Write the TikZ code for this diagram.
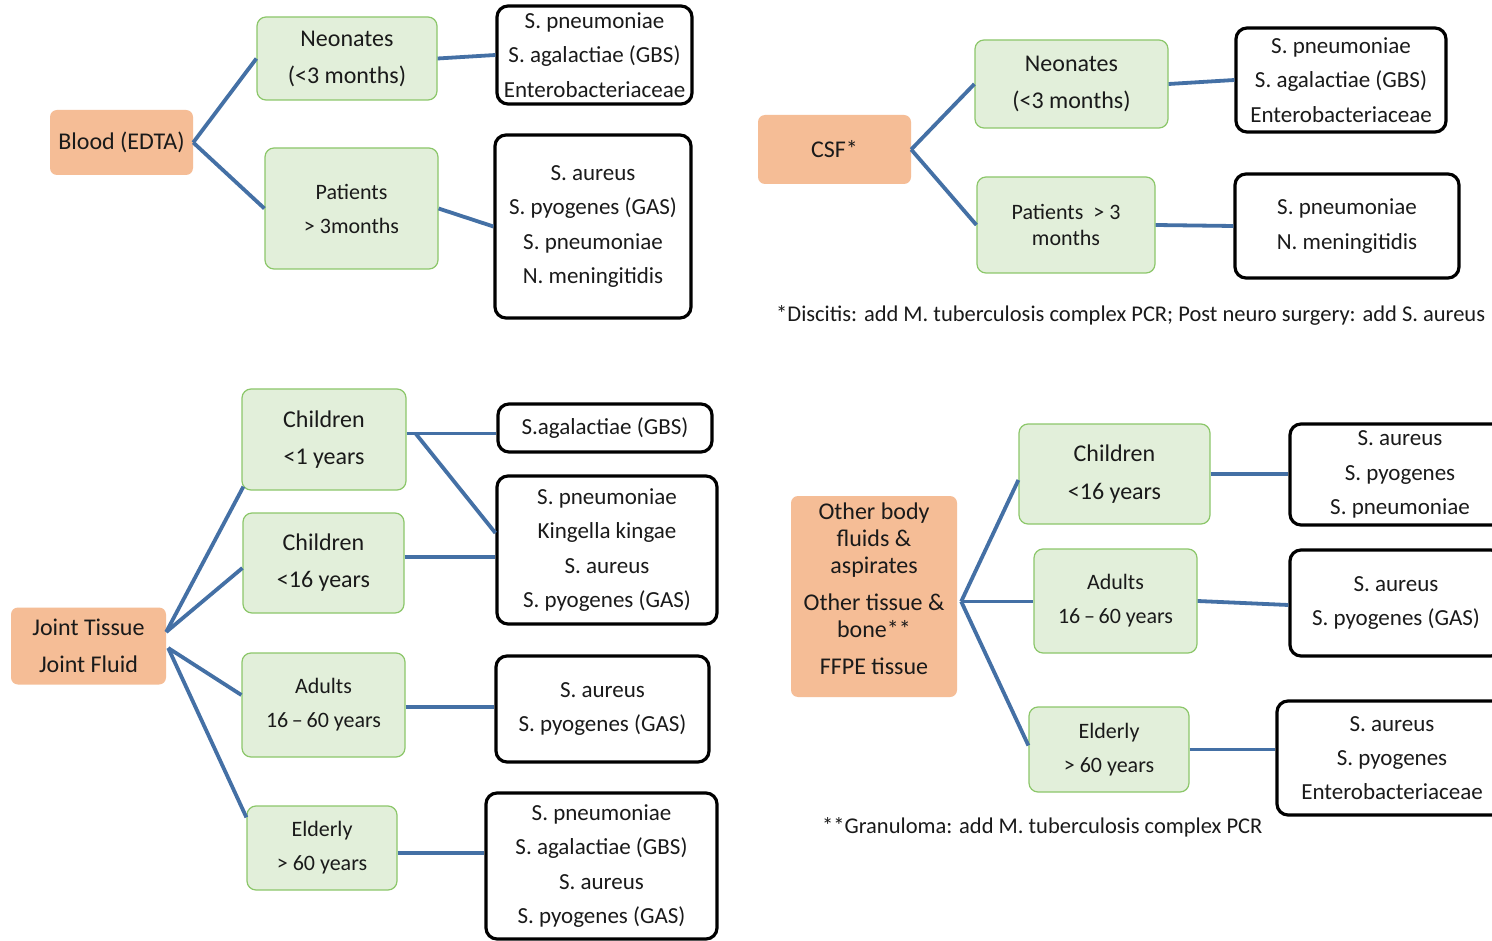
\documentclass[tikz,border=0pt]{standalone}
\usepackage{fontspec}
\setmainfont{Carlito}
\usetikzlibrary{calc}
\definecolor{srcfill}{HTML}{F5BD96}
\definecolor{catfill}{HTML}{E2EFDA}
\definecolor{catdraw}{HTML}{8CC76A}
\definecolor{linkblue}{HTML}{4470A5}
\definecolor{txt}{HTML}{1A1A1A}
\tikzset{
  src/.style={fill=srcfill, draw=none, rounded corners=7pt, inner sep=0pt, align=center, text=txt,
    font=\fontsize{24}{37}\selectfont},
  cat/.style={fill=catfill, draw=catdraw, line width=1.2pt, rounded corners=9pt, inner sep=0pt, align=center, text=txt,
    font=\fontsize{24}{37}\selectfont},
  org/.style={fill=white, draw=black, line width=3.2pt, rounded corners=11pt, inner sep=0pt, align=center, text=txt,
    font=\fontsize{23}{34.3}\selectfont},
  conn/.style={draw=linkblue, line width=3.8pt},
  foot/.style={inner sep=0pt, text=txt, font=\fontsize{22.5}{27}\selectfont},
}
\begin{document}
\begin{tikzpicture}[x=1pt, y=-1pt]
\useasboundingbox (0,0) rectangle (1492,941);
\clip (0,0) rectangle (1492,941);
\fill[white] (0,0) rectangle (1492,941);

% ---------- top left: Blood ----------
\node[src, minimum width=143pt, minimum height=65pt] (blood) at (121.5,142.5) {Blood (EDTA)};
\node[cat, minimum width=180pt, minimum height=83pt] (tlneo) at (347,58.5) {Neonates\\(<3 months)};
\node[cat, minimum width=173pt, minimum height=121pt, font=\fontsize{22}{34}\selectfont] (tlpat) at (351.5,208.5) {Patients\\> 3months};
\node[org, minimum width=195pt, minimum height=98pt] (tlb1) at (594.5,55) {S. pneumoniae\\S. agalactiae (GBS)\\Enterobacteriaceae};
\node[org, minimum width=196pt, minimum height=183pt] (tlb2) at (593,226.5) {S. aureus\\S. pyogenes (GAS)\\S. pneumoniae\\N. meningitidis};
\draw[conn] (blood.east) -- (tlneo.west);
\draw[conn] (blood.east) -- (tlpat.west);
\draw[conn] (tlneo.east) -- (tlb1.west);
\draw[conn] (tlpat.east) -- (tlb2.west);

% ---------- top right: CSF ----------
\node[src, minimum width=153pt, minimum height=69pt] (csf) at (834.5,149.5) {CSF*};
\node[cat, minimum width=193pt, minimum height=88pt] (trneo) at (1071.5,84) {Neonates\\(<3 months)};
\node[cat, minimum width=178pt, minimum height=96pt, font=\fontsize{22}{26}\selectfont] (trpat) at (1066,225) {Patients\ \ > 3\\months};
\node[org, minimum width=210pt, minimum height=104pt] (trb1) at (1341,80) {S. pneumoniae\\S. agalactiae (GBS)\\Enterobacteriaceae};
\node[org, minimum width=224pt, minimum height=104pt] (trb2) at (1347,226) {S. pneumoniae\\N. meningitidis};
\node[foot, anchor=west] (foot1) at (776,315) {*Discitis: add M. tuberculosis complex PCR; Post neuro surgery: add S. aureus};
\draw[conn] (csf.east) -- (trneo.west);
\draw[conn] (csf.east) -- (trpat.west);
\draw[conn] (trneo.east) -- (trb1.west);
\draw[conn] (trpat.east) -- (trb2.west);

% ---------- bottom left: Joint ----------
\node[src, minimum width=155pt, minimum height=77pt] (joint) at (88.5,646) {Joint Tissue\\Joint Fluid};
\node[cat, minimum width=164pt, minimum height=101pt] (blc1) at (324,439.5) {Children\\<1 years};
\node[cat, minimum width=161pt, minimum height=100pt] (blc16) at (323.5,563) {Children\\<16 years};
\node[cat, minimum width=163pt, minimum height=104pt, font=\fontsize{22}{34}\selectfont] (bladu) at (323.5,705) {Adults\\16\,--\,60 years};
\node[cat, minimum width=150pt, minimum height=84pt, font=\fontsize{22}{34}\selectfont] (bleld) at (322,848) {Elderly\\> 60 years};
\node[org, minimum width=214pt, minimum height=48pt] (blb1) at (605,428) {S.agalactiae (GBS)};
\node[org, minimum width=220pt, minimum height=148pt] (blb2) at (607,550) {S. pneumoniae\\Kingella kingae\\S. aureus\\S. pyogenes (GAS)};
\node[org, minimum width=213pt, minimum height=106pt] (blb3) at (602.5,709) {S. aureus\\S. pyogenes (GAS)};
\node[org, minimum width=231pt, minimum height=146pt] (blb4) at (601.5,866) {S. pneumoniae\\S. agalactiae (GBS)\\S. aureus\\S. pyogenes (GAS)};
\coordinate (jtop) at ([yshift=14pt]joint.east);
\coordinate (jbot) at ([yshift=-2pt,xshift=2pt]joint.east);
\draw[conn] (jtop) -- ([xshift=2pt,yshift=4pt]blc1.south west);
\draw[conn] (jtop) -- ([yshift=-5pt]blc16.west);
\draw[conn] (jbot) -- ([yshift=10pt]bladu.west);
\draw[conn] (jbot) -- ([yshift=-12pt]bleld.north west);
\coordinate (c1r) at ([yshift=6pt]blc1.east);
\draw[conn] (c1r) -- (c1r -| blb1.west);
\draw[conn] ([xshift=9pt]c1r) -- ([yshift=17pt]blb2.west);
\draw[conn] ([yshift=6pt]blc16.east) -- ([yshift=6pt]blc16.east -| blb2.west);
\draw[conn] ([yshift=-2pt]bladu.east) -- ([yshift=-2pt]bladu.east -| blb3.west);
\draw[conn] ([yshift=-5pt]bleld.east) -- ([yshift=-5pt]bleld.east -| blb4.west);

% ---------- bottom right: Other ----------
\node[src, minimum width=166pt, minimum height=201pt, font=\fontsize{24}{27}\selectfont, text depth=16pt] (other) at (874,596.5) {Other body\\fluids \&\\aspirates\\[10pt]Other tissue \&\\bone**\\[10pt]FFPE tissue};
\node[cat, minimum width=191pt, minimum height=100pt, font=\fontsize{24}{38}\selectfont] (brc) at (1114.5,474) {Children\\<16 years};
\node[cat, minimum width=163pt, minimum height=104pt, font=\fontsize{22}{34}\selectfont] (bradu) at (1115.5,601) {Adults\\16\,--\,60 years};
\node[cat, minimum width=160pt, minimum height=85pt, font=\fontsize{22}{34}\selectfont] (breld) at (1109,749.5) {Elderly\\> 60 years};
\node[org, minimum width=220pt, minimum height=101pt] (brb1) at (1400,474.5) {S. aureus\\S. pyogenes\\S. pneumoniae};
\node[org, minimum width=212pt, minimum height=106pt] (brb2) at (1396,603) {S. aureus\\S. pyogenes (GAS)};
\node[org, minimum width=230pt, minimum height=114pt] (brb3) at (1392,758) {S. aureus\\S. pyogenes\\Enterobacteriaceae};
\node[foot, anchor=west] (foot2) at (822,827) {**Granuloma: add M. tuberculosis complex PCR};
\coordinate (oc) at ([xshift=4pt,yshift=-5pt]other.east);
\draw[conn] (oc) -- ([yshift=-6pt]brc.west);
\draw[conn] (oc) -- (oc -| bradu.west);
\draw[conn] (oc) -- ([yshift=4pt]breld.west);
\draw[conn] (brc.east) -- (brc.east -| brb1.west);
\draw[conn] (bradu.east) -- ([yshift=-2pt]brb2.west);
\draw[conn] (breld.east) -- (breld.east -| brb3.west);
\end{tikzpicture}
\end{document}
